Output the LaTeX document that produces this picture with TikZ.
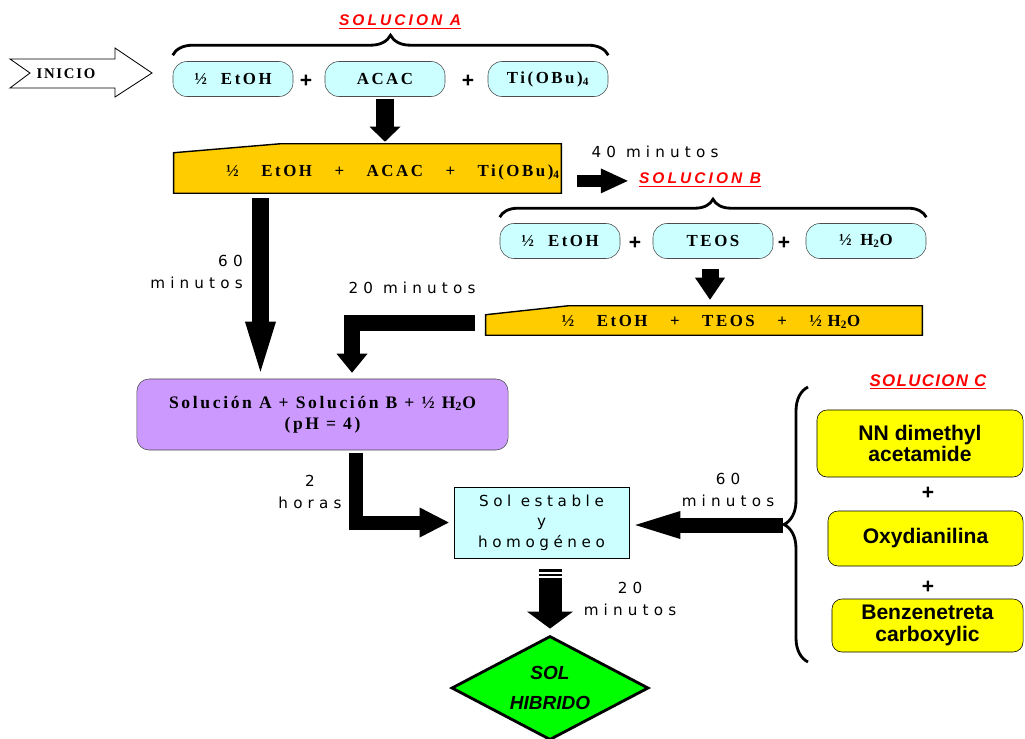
\documentclass[tikz,border=0pt]{standalone}
\usepackage{fontspec}
\setmainfont{Liberation Serif}
\setsansfont{Liberation Sans}
\newfontfamily\chemfont[LetterSpace=15]{Liberation Serif}
\newfontfamily\minfont[LetterSpace=34]{DejaVu Sans}
\newfontfamily\solfont[LetterSpace=30]{DejaVu Sans}
\newfontfamily\titlefont[LetterSpace=20]{Liberation Sans}
\usepackage{tikz}
\usetikzlibrary{arrows.meta,shapes.geometric,decorations.pathreplacing,positioning}

\definecolor{pillcyan}{HTML}{CCFFFF}
\definecolor{mixorange}{HTML}{FFCC00}
\definecolor{mixpurple}{HTML}{CC99FF}
\definecolor{solyellow}{HTML}{FFFF00}
\definecolor{hibgreen}{HTML}{00FF00}

\newcommand{\chemgap}{\hspace{16pt}}

\begin{document}
\begin{tikzpicture}[x=0.025cm,
            y=-0.025cm,
            pill/.style={draw=black!70, fill=pillcyan, rounded corners=0.35cm,
                         minimum width=3cm, minimum height=0.875cm, inner sep=0pt,
                         font=\chemfont\bfseries\fontsize{12}{14}\selectfont},
            plussign/.style={inner sep=0pt, font=\sffamily\bfseries\fontsize{15}{15}\selectfont},
            chem/.style={inner sep=0pt, font=\chemfont\bfseries\fontsize{12}{14}\selectfont},
            mins/.style={inner sep=0pt, font=\minfont\fontsize{10.8}{15}\selectfont},
            soltitle/.style={inner sep=0pt, text=red,
                         font=\titlefont\bfseries\itshape\fontsize{11}{13}\selectfont},
            ybox/.style={draw=black, fill=solyellow, rounded corners=0.25cm, inner sep=0pt,
                         align=center, font=\sffamily\bfseries\fontsize{15}{15.5}\selectfont},
            brace/.style={decorate, decoration={brace, amplitude=#1}, line width=2pt},
            fat/.style n args={3}{draw=black, line width=#1,
                         -{Triangle[width=#2, length=#3, line width=0pt 0 0]}}]

        \useasboundingbox (0,0) rectangle (1025,738);

        \filldraw[fill=white, draw=black, line width=0.6pt]
            (10,59) -- (115,59) -- (115,48) -- (152,73) -- (115,97) -- (115,88) -- (10,88) -- (30,73) -- cycle;
        \node[chem, font=\chemfont\bfseries\fontsize{10.5}{11}\selectfont\addfontfeatures{LetterSpace=12}]
            (inicio) at (66,74) {INICIO};

        \node[soltitle]             (solA)  at (400,22)  {\underline{SOLUCION A}};
        \node[pill]                 (etohA) at (233,79)  {½\hspace{10pt}EtOH};
        \node[plussign]             (pA1)   at (306,81)  {+};
        \node[pill]                 (acac)  at (385,79)  {ACAC};
        \node[plussign]             (pA2)   at (468,81)  {+};
        \node[pill]                 (tiobu) at (548,79)  {Ti(OBu)\textsubscript{4}};
        \draw[brace=0.5cm] ([yshift=0.15cm]etohA.north west) -- ([yshift=0.15cm]tiobu.north east);

        \node[minimum width=9.675cm, minimum height=1.225cm, inner sep=0pt] (boxA) at (367.5,168.5) {};
        \filldraw[fill=mixorange, draw=black, line width=1pt]
            (boxA.south west) -- ([yshift=-0.225cm]boxA.north west) -- ([xshift=2.675cm]boxA.north west)
            -- (boxA.north east) -- (boxA.south east) -- cycle;
        \node[chem] (txtA) at (393,172)
            {½\chemgap EtOH\chemgap+\chemgap ACAC\chemgap+\chemgap Ti(OBu)\textsubscript{4}};

        \node[mins]                 (t40)   at (655,152) {40 minutos};
        \node[soltitle]             (solB)  at (700,180) {\underline{SOLUCION B}};
        \node[pill]                 (etohB) at (560,241) {½\hspace{10pt}EtOH};
        \node[plussign]             (pB1)   at (635,243) {+};
        \node[pill]                 (teos)  at (713,241) {TEOS};
        \node[plussign]             (pB2)   at (784,243) {+};
        \node[pill]                 (water) at (866,241) {½\hspace{6pt}H\textsubscript{2}O};
        \draw[brace=0.45cm] ([yshift=0.15cm]etohB.north west) -- ([yshift=0.15cm]water.north east);

        \node[minimum width=10.9cm, minimum height=0.725cm, inner sep=0pt] (boxB) at (704,320.5) {};
        \filldraw[fill=mixorange, draw=black, line width=1pt]
            (boxB.south west) -- ([yshift=-0.225cm]boxB.north west) -- ([xshift=2.075cm]boxB.north west)
            -- (boxB.north east) -- (boxB.south east) -- cycle;
        \node[chem] (txtB) at (711,322)
            {½\chemgap EtOH\chemgap+\chemgap TEOS\chemgap+\chemgap ½\hspace{4pt}H\textsubscript{2}O};

        \node[mins, align=right, anchor=east] (t60a) at (243,272) {60\\minutos};
        \node[mins]                 (t20a)  at (412,288) {20 minutos};

        \node[draw=black!70, fill=mixpurple, rounded corners=0.3cm, minimum width=9.275cm,
              minimum height=1.775cm, align=center,
              font=\chemfont\bfseries\fontsize{12.5}{15}\selectfont] (mix) at (322.5,414.5)
            {Solución A + Solución B + ½ H\textsubscript{2}O\\(pH = 4)};

        \node[mins, align=center]   (t2h)   at (310,492) {2\\horas};
        \node[draw=black, fill=pillcyan, minimum width=4.375cm, minimum height=1.775cm,
              align=center, font=\solfont\fontsize{10.8}{14.5}\selectfont] (sol) at (541.5,522.5)
            {Sol estable\\y\\homogéneo};
        \node[mins, align=center]   (t60b)  at (728,490) {60\\minutos};
        \node[mins, align=center]   (t20b)  at (630,599) {20\\minutos};

        \node[soltitle, font=\sffamily\bfseries\itshape\fontsize{12}{13}\selectfont\addfontfeatures{LetterSpace=8}]
                                    (solC)  at (928,382) {\underline{SOLUCION C}};
        \node[ybox, minimum width=5.15cm, minimum height=1.675cm]  (dmac) at (920,443.5) {NN dimethyl\\acetamide};
        \node[plussign]             (pC1)   at (928,493) {+};
        \node[ybox, minimum width=4.875cm, minimum height=1.375cm] (oda)  at (925.5,538.5) {Oxydianilina};
        \node[plussign]             (pC2)   at (928,587) {+};
        \node[ybox, minimum width=4.775cm, minimum height=1.325cm] (btca) at (927.5,625.5) {Benzenetreta\\carboxylic};
        \draw[brace=0.6cm] (808,662) -- (808,387);
        \coordinate (tipC) at (783,525);

        \node[diamond, aspect=1.9, draw=black, line width=2pt, fill=hibgreen, minimum width=4.925cm,
              minimum height=2.6cm, inner sep=0pt, align=center,
              font=\sffamily\bfseries\itshape\fontsize{13.5}{21}\selectfont] (hib) at (550,688) {SOL\\HIBRIDO};

        \draw[fat={0.45cm}{0.775cm}{0.375cm}] ([yshift=-0.05cm]acac.south) -- ([yshift=0.05cm]acac.south |- boxA.north);
        \draw[fat={0.3cm}{0.625cm}{0.675cm}] ([xshift=0.4cm,yshift=-0.31cm]boxA.east) coordinate (a40)
            -- ([xshift=-0.275cm]a40 -| solB.west);
        \draw[fat={0.425cm}{0.775cm}{1.25cm}] ([xshift=-2.675cm,yshift=-0.125cm]boxA.south) coordinate (a60)
            -- ([yshift=0.175cm]a60 |- mix.north);
        \draw[fat={0.425cm}{0.75cm}{0.55cm}] ([xshift=-0.075cm,yshift=-0.25cm]teos.south) coordinate (aT)
            -- ([yshift=0.15cm]aT |- boxB.north);
        \draw[fat={0.4cm}{0.775cm}{0.475cm}] ([xshift=-0.275cm,yshift=-0.05cm]boxB.west)
            -| ([xshift=0.7375cm,yshift=0.15cm]mix.north);
        \draw[fat={0.35cm}{0.75cm}{0.725cm}] ([xshift=0.825cm,yshift=-0.075cm]mix.south)
            |- ([xshift=-0.125cm]sol.west);
        \draw[fat={0.375cm}{0.7cm}{1.125cm}] (tipC) -- ([xshift=0.15cm]tipC -| sol.east);
        \draw[fat={0.575cm}{1.15cm}{0.425cm}] ([xshift=0.2125cm,yshift=-0.275cm]sol.south) coordinate (a20)
            -- ([yshift=0.15cm]a20 |- hib.north);
        \draw[white, line width=0.05cm] ([xshift=-0.35cm,yshift=-0.1cm]a20) -- ([xshift=0.35cm,yshift=-0.1cm]a20);
        \draw[white, line width=0.05cm] ([xshift=-0.35cm,yshift=-0.2cm]a20) -- ([xshift=0.35cm,yshift=-0.2cm]a20);

    \end{tikzpicture}
\end{document}
